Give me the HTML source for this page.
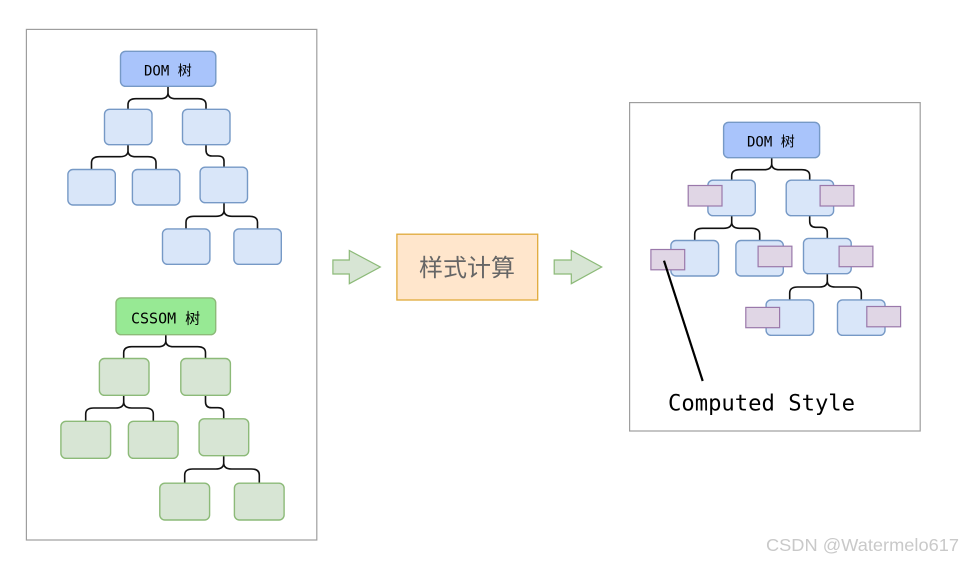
<!DOCTYPE html>
<html>
<head>
<meta charset="utf-8">
<style>
html,body{margin:0;padding:0;background:#fff;width:962px;height:563px;overflow:hidden}
svg{display:block}
.mono{font-family:"DejaVu Sans Mono","Noto Sans CJK SC",monospace;fill:#000}
.b{fill:#d9e6f9;stroke:#7699c6;stroke-width:1.4}
.g{fill:#d7e5d4;stroke:#8cba78;stroke-width:1.4}
.p{fill:#e0d6e5;stroke:#9a78aa;stroke-width:1.2}
.c{fill:none;stroke:#111;stroke-width:1.6}
.f{fill:none;stroke:#9e9e9e;stroke-width:1.2}
.a{fill:#d7e5d4;stroke:#8cba78;stroke-width:1.2}
</style>
</head>
<body>
<svg width="962" height="563" viewBox="0 0 962 563" xmlns="http://www.w3.org/2000/svg">
<rect x="26.4" y="29.4" width="290.4" height="510.6" class="f"/>
<rect x="629.6" y="102.6" width="290.6" height="328.4" class="f"/>

<!-- Left DOM connectors -->
<path class="c" d="M168 86V92.7Q168 98.7 160 98.7H136Q128 98.7 128 104.7V109M168 92.7Q168 98.7 176 98.7H198Q206 98.7 206 104.7V109"/>
<path class="c" d="M128 144.7V150.7Q128 156.7 120 156.7H99.5Q91.5 156.7 91.5 162.7V169.3M128 150.7Q128 156.7 136 156.7H148Q156 156.7 156 162.7V169.3"/>
<path class="c" d="M206 144.7V150Q206 156 212 156H218Q224 156 224 161V167"/>
<path class="c" d="M224 202.7V210.3Q224 216.3 216 216.3H194Q186 216.3 186 222.3V228.7M224 210.3Q224 216.3 232 216.3H249.5Q257.5 216.3 257.5 222.3V228.7"/>
<!-- Left DOM nodes -->
<rect x="120.5" y="51.3" width="95.3" height="35" rx="5" fill="#a9c4fb" stroke="#7699c6" stroke-width="1.4"/>
<rect x="104.5" y="109.3" width="47.5" height="35.4" rx="5" class="b"/>
<rect x="182.5" y="109.3" width="47.5" height="35.4" rx="5" class="b"/>
<rect x="67.9" y="169.5" width="47.4" height="35.5" rx="5" class="b"/>
<rect x="132.4" y="169.5" width="47.4" height="35.5" rx="5" class="b"/>
<rect x="200.1" y="167.2" width="47.4" height="35.5" rx="5" class="b"/>
<rect x="162.5" y="228.9" width="47.4" height="35.4" rx="5" class="b"/>
<rect x="233.9" y="228.9" width="47.4" height="35.4" rx="5" class="b"/>
<text x="144" y="75.3" class="mono" font-size="14">DOM 树</text>

<!-- Left CSSOM connectors -->
<path class="c" d="M165.8 334.7V340.7Q165.8 346.7 157.8 346.7H131.7Q123.7 346.7 123.7 352.7V358.3M165.8 340.7Q165.8 346.7 173.8 346.7H197.5Q205.5 346.7 205.5 352.7V358.3"/>
<path class="c" d="M123.7 395.3V402Q123.7 408 115.7 408H93.7Q85.7 408 85.7 414V421M123.7 402Q123.7 408 131.7 408H145.3Q153.3 408 153.3 414V421"/>
<path class="c" d="M205.5 395.3V401.7Q205.5 407.7 211.5 407.7H218Q223.7 407.7 223.7 412.7V418.7"/>
<path class="c" d="M223.7 455.7V463Q223.7 469 215.7 469H192.7Q184.7 469 184.7 475V483M223.7 463Q223.7 469 231.7 469H251.3Q259.3 469 259.3 475V483"/>
<!-- Left CSSOM nodes -->
<rect x="116" y="297.9" width="99.7" height="36.8" rx="5" fill="#97e994" stroke="#8cba78" stroke-width="1.4"/>
<rect x="99.4" y="358.5" width="49.6" height="36.8" rx="5" class="g"/>
<rect x="180.8" y="358.5" width="49.6" height="36.8" rx="5" class="g"/>
<rect x="60.9" y="421.3" width="49.7" height="37" rx="5" class="g"/>
<rect x="128.4" y="421.3" width="49.7" height="37" rx="5" class="g"/>
<rect x="199.1" y="418.8" width="49.6" height="36.9" rx="5" class="g"/>
<rect x="159.8" y="483.2" width="49.8" height="36.8" rx="5" class="g"/>
<rect x="234.4" y="483.2" width="49.7" height="36.8" rx="5" class="g"/>
<text x="131" y="323.3" class="mono" font-size="15">CSSOM 树</text>

<!-- Arrows -->
<polygon class="a" points="332.9,260 349.3,260 349.3,250.5 380.3,267 349.3,283.7 349.3,274 332.9,274"/>
<polygon class="a" points="554.2,260 571.3,260 571.3,250.5 601.7,267 571.3,283.7 571.3,274 554.2,274"/>

<!-- Center box -->
<rect x="396.9" y="234.2" width="140.8" height="65.8" fill="#ffe6cc" stroke="#e0aa3a" stroke-width="1.3"/>
<text x="467" y="276" text-anchor="middle" font-size="24" fill="#666" font-family="'Noto Sans CJK SC','WenQuanYi Zen Hei',sans-serif">样式计算</text>

<!-- Right connectors -->
<path class="c" d="M771.7 157.7V163.7Q771.7 169.7 763.7 169.7H739.7Q731.7 169.7 731.7 175.7V180M771.7 163.7Q771.7 169.7 779.7 169.7H801.7Q809.7 169.7 809.7 175.7V180"/>
<path class="c" d="M731.7 215.7V222.3Q731.7 228.3 723.7 228.3H702.7Q694.7 228.3 694.7 234.3V240.3M731.7 222.3Q731.7 228.3 739.7 228.3H751.7Q759.7 228.3 759.7 234.3V240.3"/>
<path class="c" d="M809.7 215.7V221.3Q809.7 227.3 815.7 227.3H821.3Q827.3 227.3 827.3 232.3V238.3"/>
<path class="c" d="M827.3 273.7V281Q827.3 287 819.3 287H797.7Q789.7 287 789.7 293V299.7M827.3 281Q827.3 287 835.3 287H853.3Q861.3 287 861.3 293V299.7"/>
<!-- Right nodes -->
<rect x="723.6" y="122.3" width="96" height="35.4" rx="5" fill="#a9c4fb" stroke="#7699c6" stroke-width="1.4"/>
<rect x="707.9" y="180.2" width="47.4" height="35.5" rx="5" class="b"/>
<rect x="786.2" y="180.2" width="47.4" height="35.5" rx="5" class="b"/>
<rect x="670.9" y="240.5" width="47.7" height="35.5" rx="5" class="b"/>
<rect x="735.9" y="240.5" width="47.4" height="35.5" rx="5" class="b"/>
<rect x="803.5" y="238.4" width="47.7" height="35.3" rx="5" class="b"/>
<rect x="766.1" y="299.9" width="47.5" height="35.4" rx="5" class="b"/>
<rect x="837.5" y="299.9" width="47.5" height="35.4" rx="5" class="b"/>
<text x="747" y="146.3" class="mono" font-size="14">DOM 树</text>
<!-- Purple -->
<rect x="688.2" y="185.5" width="33.8" height="20.5" class="p"/>
<rect x="820.1" y="185.5" width="33.8" height="20.5" class="p"/>
<rect x="650.9" y="249.5" width="33.8" height="20.3" class="p"/>
<rect x="758.1" y="246.2" width="33.8" height="20.5" class="p"/>
<rect x="839.1" y="246.2" width="33.8" height="20.5" class="p"/>
<rect x="745.8" y="307.4" width="33.8" height="20.3" class="p"/>
<rect x="866.8" y="306.5" width="33.8" height="20.3" class="p"/>
<line x1="664" y1="260.7" x2="702.7" y2="381" stroke="#000" stroke-width="2.2"/>
<text x="668" y="410.5" class="mono" font-size="22.2">Computed Style</text>

<text x="766" y="551" font-size="17.5" fill="#c9c9c9" font-family="'Liberation Sans',sans-serif" textLength="193" lengthAdjust="spacingAndGlyphs">CSDN @Watermelo617</text>
</svg>
</body>
</html>
